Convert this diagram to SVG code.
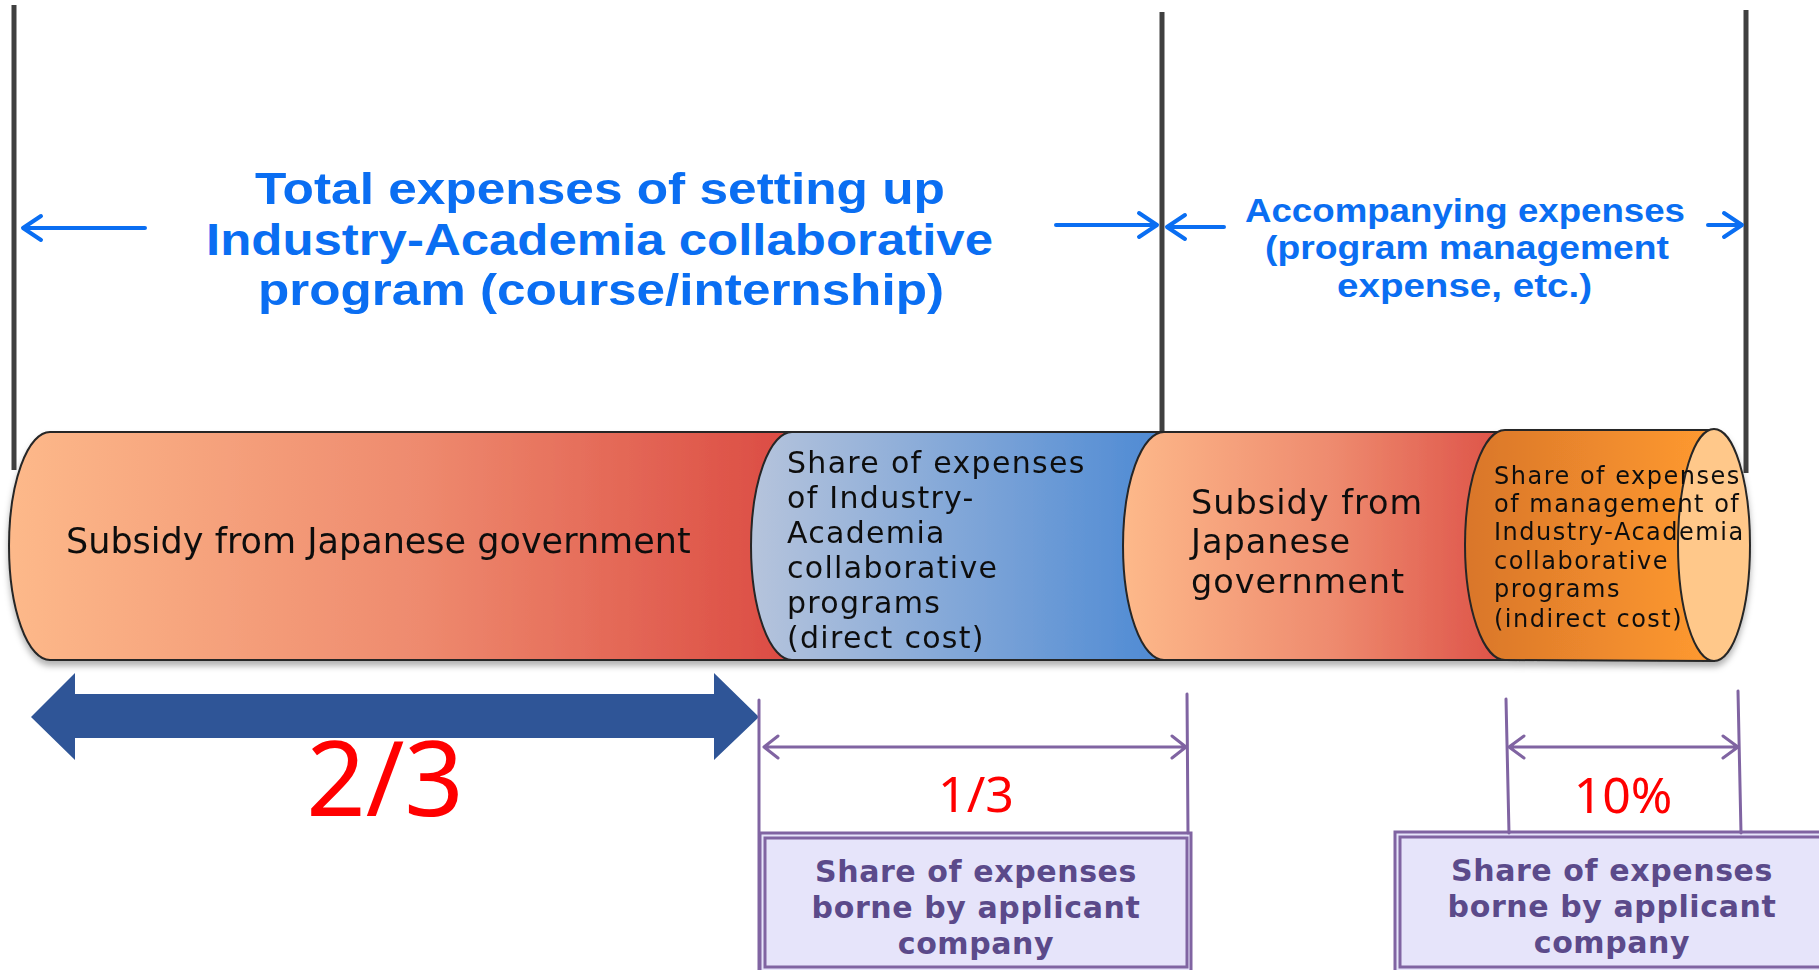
<svg xmlns="http://www.w3.org/2000/svg" width="1819" height="970" viewBox="0 0 1819 970">
<style>
.vline{stroke:#404040;stroke-width:5;fill:none}
.barrow{stroke:#0a6ef2;stroke-width:4;fill:none;stroke-linecap:round;stroke-linejoin:round}
.dim{stroke:#8064a2;stroke-width:3;fill:none;stroke-linecap:round;stroke-linejoin:round}
.title{font-family:"Liberation Sans",Arial,sans-serif;font-weight:700;fill:#0a6ef2}
.cyl{stroke:#262626;stroke-width:2}
.ct{font-family:"DejaVu Sans","Liberation Sans",sans-serif;fill:#111}
.box{fill:#e6e4fa;stroke:#8064a2;stroke-width:3}
.bt{font-family:"DejaVu Sans","Liberation Sans",sans-serif;font-weight:700;fill:#5b4a8a;font-size:30px;text-anchor:middle;letter-spacing:0.6px}
.frac{font-family:"Noto Sans","Liberation Sans",sans-serif;fill:#ff0000;text-anchor:middle}
</style>
<defs>
<linearGradient id="gSalmon" x1="0" y1="0" x2="1" y2="0">
<stop offset="0" stop-color="#fdb98a"/>
<stop offset="0.5" stop-color="#ee8a6e"/>
<stop offset="1" stop-color="#d9443e"/>
</linearGradient>
<linearGradient id="gBlue" x1="0" y1="0" x2="1" y2="0">
<stop offset="0" stop-color="#b6c4dc"/>
<stop offset="1" stop-color="#4384d3"/>
</linearGradient>
<linearGradient id="gOrange" x1="0" y1="0" x2="1" y2="0">
<stop offset="0" stop-color="#d9762a"/>
<stop offset="1" stop-color="#ff9a30"/>
</linearGradient>
<filter id="sh" x="-5%" y="-10%" width="110%" height="130%">
<feDropShadow dx="0" dy="5" stdDeviation="3" flood-color="#000" flood-opacity="0.3"/>
</filter>
</defs>

<g id="boundaries">
<line class="vline" x1="14" y1="5" x2="14" y2="470"/>
<line class="vline" x1="1162" y1="12" x2="1162" y2="432"/>
<line class="vline" x1="1746" y1="10" x2="1746" y2="473"/>
</g>

<g id="title-total">
<text class="title" font-size="45" x="255" y="204" textLength="690" lengthAdjust="spacingAndGlyphs">Total expenses of setting up</text>
<text class="title" font-size="45" x="206" y="255" textLength="787" lengthAdjust="spacingAndGlyphs">Industry-Academia collaborative</text>
<text class="title" font-size="45" x="258" y="305" textLength="686" lengthAdjust="spacingAndGlyphs">program (course/internship)</text>
</g>

<g id="title-accompanying">
<text class="title" font-size="33" x="1245" y="222" textLength="440" lengthAdjust="spacingAndGlyphs">Accompanying expenses</text>
<text class="title" font-size="33" x="1265" y="259" textLength="404" lengthAdjust="spacingAndGlyphs">(program management</text>
<text class="title" font-size="33" x="1337" y="297" textLength="255" lengthAdjust="spacingAndGlyphs">expense, etc.)</text>
</g>

<g id="cylinder" filter="url(#sh)">
<g id="seg-subsidy-1">
<path class="cyl" fill="url(#gSalmon)" d="M50,432 L792,432 A41,114 0 0 1 792,660 L50,660 A41,114 0 0 1 50,432 Z"/>
<text class="ct" font-size="35" x="66" y="553">Subsidy from Japanese government</text>
</g>
<g id="seg-direct">
<path class="cyl" fill="url(#gBlue)" d="M792,432 L1164,432 A41,114 0 0 1 1164,660 L792,660 A41,114 0 0 1 792,432 Z"/>
<text class="ct" font-size="30" letter-spacing="1.3"><tspan x="787" y="473">Share of expenses</tspan><tspan x="787" y="508">of Industry-</tspan><tspan x="787" y="543">Academia</tspan><tspan x="787" y="578">collaborative</tspan><tspan x="787" y="613">programs</tspan><tspan x="787" y="648">(direct cost)</tspan></text>
</g>
<g id="seg-subsidy-2">
<path class="cyl" fill="url(#gSalmon)" d="M1164,432 L1505,432 A41,114 0 0 1 1505,660 L1164,660 A41,114 0 0 1 1164,432 Z"/>
<text class="ct" font-size="33.5" letter-spacing="1"><tspan x="1191" y="514">Subsidy from</tspan><tspan x="1191" y="553">Japanese</tspan><tspan x="1191" y="593">government</tspan></text>
</g>
<g id="seg-indirect">
<path class="cyl" fill="url(#gOrange)" d="M1505,430 L1714,430 L1714,661 L1505,660 A40,115 0 0 1 1505,430 Z"/>
<ellipse class="cyl" cx="1714" cy="545" rx="36" ry="116" fill="#ffc88a"/>
<text class="ct" font-size="24" letter-spacing="1.5"><tspan x="1494" y="484">Share of expenses</tspan><tspan x="1494" y="512">of management of</tspan><tspan x="1494" y="540">Industry-Academia</tspan><tspan x="1494" y="569">collaborative</tspan><tspan x="1494" y="597">programs</tspan><tspan x="1494" y="627">(indirect cost)</tspan></text>
</g>
</g>

<g id="box-direct">
<rect class="box" x="760" y="833" width="431" height="145"/>
<rect class="box" x="765" y="838" width="422" height="129" stroke-width="2"/>
<text class="bt"><tspan x="976" y="882">Share of expenses</tspan><tspan x="976" y="918">borne by applicant</tspan><tspan x="976" y="954">company</tspan></text>
</g>

<g id="box-indirect">
<rect class="box" x="1395" y="832" width="440" height="145"/>
<rect class="box" x="1400" y="837" width="430" height="130" stroke-width="2"/>
<text class="bt"><tspan x="1612" y="881">Share of expenses</tspan><tspan x="1612" y="917">borne by applicant</tspan><tspan x="1612" y="953">company</tspan></text>
</g>

<g id="labels">
<text class="frac" font-size="104" x="385" y="816">2/3</text>
<text class="frac" font-size="50" x="976" y="812">1/3</text>
<text class="frac" font-size="50" x="1623" y="813">10%</text>
</g>

<g id="connectors">
<path class="barrow" d="M145,228 L23,228 M41,216 L23,228 L41,240"/>
<path class="barrow" d="M1056,225 L1157,225 M1139,213 L1157,225 L1139,237"/>
<path class="barrow" d="M1224,227 L1167,227 M1185,215 L1167,227 L1185,239"/>
<path class="barrow" d="M1708,225 L1742,225 M1724,213 L1742,225 L1724,237"/>
<polygon fill="#2f5597" points="31,717 75,673 75,694 714,694 714,673 759,717 714,760 714,738 75,738 75,760"/>
<line class="dim" x1="759" y1="700" x2="759" y2="970"/>
<line class="dim" x1="1187" y1="694" x2="1188" y2="833"/>
<path class="dim" d="M764,747 L1186,747 M778,736 L764,747 L778,758 M1172,736 L1186,747 L1172,758"/>
<line class="dim" x1="1506" y1="699" x2="1509" y2="833"/>
<line class="dim" x1="1738" y1="691" x2="1741" y2="833"/>
<path class="dim" stroke-width="4" d="M1509,747 L1738,747 M1524,736 L1509,747 L1524,758 M1723,736 L1738,747 L1723,758"/>
</g>
</svg>
